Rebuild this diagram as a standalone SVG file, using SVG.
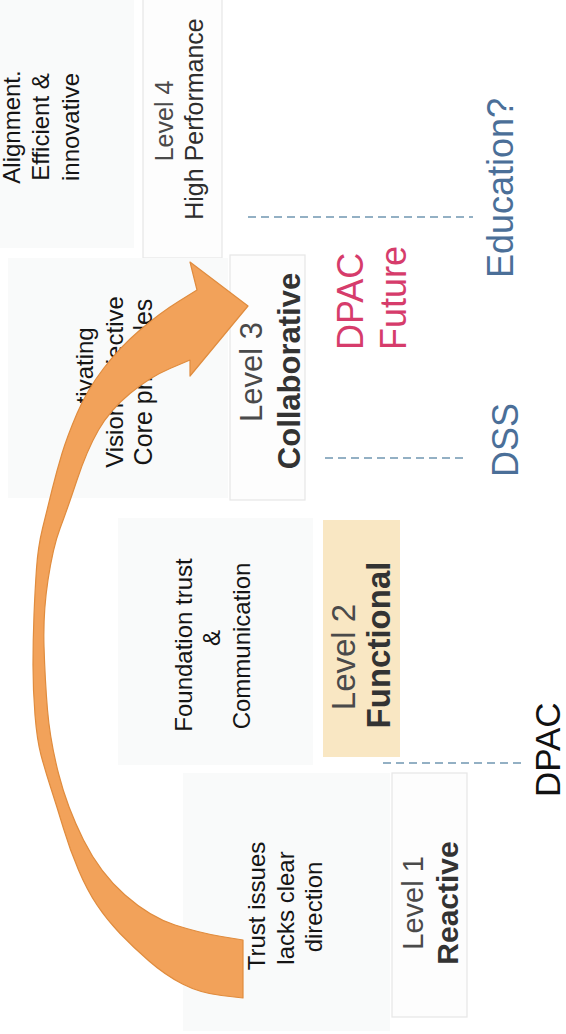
<svg xmlns="http://www.w3.org/2000/svg" width="566" height="1034" viewBox="0 0 566 1034">
<style>
.t{font-family:"Liberation Sans",Arial,sans-serif;font-size:24px;fill:#151515;text-anchor:middle}
.lv{font-family:"Liberation Sans",Arial,sans-serif;fill:#4a4a4a;text-anchor:middle}
.lb{font-family:"Liberation Sans",Arial,sans-serif;fill:#333;font-weight:bold;text-anchor:middle}
.lab{font-family:"Liberation Sans",Arial,sans-serif;font-size:36px;text-anchor:start}
.bg{fill:#f9fafa}
.lbox{fill:#fdfdfd;stroke:#e6e6e6;stroke-width:1.2}
.dash{stroke:#93b0c4;stroke-width:2;stroke-dasharray:8 5;fill:none}
</style>
<rect width="566" height="1034" fill="#ffffff"/>

<g id="alignment">
<rect class="bg" x="-2" y="-2" width="136" height="250"/>
<text class="t" transform="translate(20,127) rotate(-90)">Alignment.</text>
<text class="t" transform="translate(49,127) rotate(-90)">Efficient &amp;</text>
<text class="t" transform="translate(79,127) rotate(-90)">innovative</text>
</g>

<g id="level4">
<rect class="lbox" x="143" y="-2" width="79" height="260"/>
<text class="lv" font-size="25" transform="translate(173,121) rotate(-90)">Level 4</text>
<text class="lv" font-size="25" style="fill:#2e2e2e" transform="translate(203,119) rotate(-90)">High Performance</text>
</g>

<g id="motivating">
<rect class="bg" x="8" y="258" width="220" height="240"/>
<text class="t" transform="translate(93,382) rotate(-90)">Motivating</text>
<text class="t" transform="translate(123,382) rotate(-90)">Vision Objective</text>
<text class="t" style="font-size:25px" transform="translate(152,382) rotate(-90)">Core principles</text>
</g>

<g id="level3">
<rect class="lbox" x="230" y="255" width="75" height="245"/>
<text class="lv" font-size="31" transform="translate(262,372) rotate(-90)">Level 3</text>
<text class="lb" font-size="31" transform="translate(300,371) rotate(-90)">Collaborative</text>
</g>

<g id="foundation">
<rect class="bg" x="118" y="518" width="195" height="247"/>
<text class="t" transform="translate(192,645) rotate(-90)">Foundation trust</text>
<text class="t" transform="translate(220,638) rotate(-90)">&amp;</text>
<text class="t" transform="translate(250,646) rotate(-90)">Communication</text>
</g>

<g id="level2">
<rect x="323" y="520" width="77" height="237" fill="#f9e7c3"/>
<text class="lv" font-size="33" transform="translate(355,657) rotate(-90)">Level 2</text>
<text class="lb" font-size="33" transform="translate(390,645) rotate(-90)">Functional</text>
</g>

<g id="trust">
<rect class="bg" x="183" y="773" width="207" height="258"/>
<text class="t" transform="translate(265,906) rotate(-90)">Trust issues</text>
<text class="t" transform="translate(294,908) rotate(-90)">lacks clear</text>
<text class="t" transform="translate(322,907) rotate(-90)">direction</text>
</g>

<g id="level1">
<rect class="lbox" x="392" y="773" width="75" height="244"/>
<text class="lv" font-size="29" transform="translate(423,903) rotate(-90)">Level 1</text>
<text class="lb" font-size="30" transform="translate(458,903) rotate(-90)">Reactive</text>
</g>

<g id="dividers">
<line class="dash" x1="248" y1="217" x2="473" y2="217"/>
<line class="dash" x1="325" y1="458" x2="463" y2="458"/>
<line class="dash" x1="383" y1="763" x2="522" y2="763"/>
</g>

<g id="labels">
<text class="lab" fill="#4b6f98" transform="translate(513,278) rotate(-90)">Education?</text>
<text class="lab" fill="#4b6f98" transform="translate(518,477) rotate(-90)">DSS</text>
<text class="lab" fill="#d63c6b" transform="translate(363,350) rotate(-90)">DPAC</text>
<text class="lab" fill="#d63c6b" transform="translate(406,350) rotate(-90)">Future</text>
<text class="lab" fill="#111111" style="font-size:35px" transform="translate(560,797) rotate(-90)">DPAC</text>
</g>

<g id="connectors">
<path id="growth-arrow" fill="#f2a25a" stroke="#e08c3e" stroke-width="1.2" stroke-linejoin="round" d="M243,998 L221.5,995.5 Q200,993 182.5,984 Q165,975 149,961 Q133,947 120,933.5 Q107,920 97,905 Q87,890 78.5,870 Q70,850 63.5,828.5 Q57,807 51,788.5 Q45,770 41,755 Q37,740 35,715 Q33,690 33,665 Q33,640 34,615 Q35,590 36.5,568.5 Q38,547 42.5,528.5 Q47,510 52,490 Q57,470 62,453.5 Q67,437 77,413.5 Q87,390 103.5,368.5 Q120,347 140,330 Q160,313 178.5,301.5 L197,290 L190,262 L248,306 L190,376 L190,360 L170,368.5 Q150,377 130,393.5 Q110,410 98.5,430 Q87,450 77,480 Q67,510 60,528.5 Q53,547 48,580 Q43,613 44,646.5 Q45,680 47.5,710 Q50,740 58.5,773.5 Q67,807 83.5,840 Q100,873 125,895 Q150,917 175,925 Q200,933 221.5,936.5 L243,940 Z"/>
</g>
</svg>
